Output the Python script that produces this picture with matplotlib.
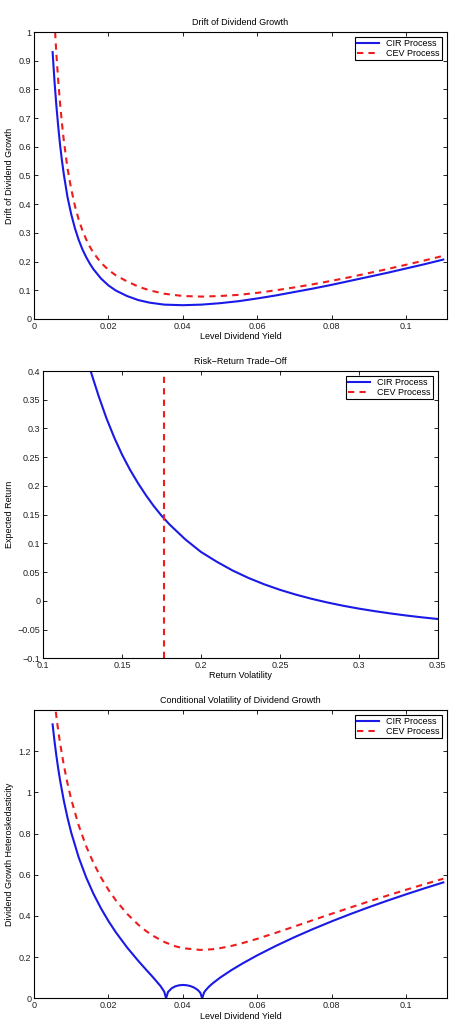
import matplotlib
matplotlib.use('Agg')
import matplotlib.pyplot as plt
from matplotlib.ticker import FuncFormatter, MultipleLocator

plt.rcParams['font.family'] = ['Liberation Sans', 'DejaVu Sans']
plt.rcParams['font.size'] = 6.5

# --- panel 1: drift of dividend growth ---
yield_cir = [0.005, 0.0055, 0.006, 0.0065, 0.007, 0.0075, 0.008, 0.009, 0.010, 0.011,
             0.012, 0.013, 0.014, 0.015, 0.016, 0.018, 0.020, 0.022, 0.025, 0.028,
             0.031, 0.035, 0.040, 0.045, 0.050, 0.055, 0.060, 0.065, 0.070, 0.075,
             0.080, 0.085, 0.090, 0.095, 0.100, 0.105, 0.110]
drift_cir = [0.93, 0.83, 0.745, 0.672, 0.607, 0.553, 0.505, 0.425, 0.365, 0.316,
             0.276, 0.243, 0.216, 0.193, 0.173, 0.141, 0.117, 0.099, 0.080, 0.066,
             0.057, 0.050, 0.048, 0.050, 0.055, 0.062, 0.0715, 0.082, 0.094, 0.106,
             0.119, 0.133, 0.147, 0.161, 0.176, 0.191, 0.207]
yield_cev = yield_cir[1:]
drift_cev = [1.04, 0.925, 0.832, 0.752, 0.683, 0.623, 0.525, 0.453, 0.394,
             0.347, 0.309, 0.278, 0.252, 0.230, 0.196, 0.171, 0.152, 0.131, 0.113,
             0.100, 0.088, 0.080, 0.078, 0.080, 0.084, 0.091, 0.100, 0.110, 0.121,
             0.133, 0.146, 0.160, 0.174, 0.189, 0.204, 0.220]

# --- panel 2: risk-return trade-off ---
vol_cir = [0.128, 0.130, 0.135, 0.140, 0.145, 0.150, 0.155, 0.160, 0.165, 0.170,
           0.175, 0.180, 0.190, 0.200, 0.210, 0.220, 0.230, 0.240, 0.250, 0.260,
           0.270, 0.280, 0.290, 0.300, 0.310, 0.320, 0.330, 0.340, 0.350]
ret_cir = [0.425, 0.40, 0.357, 0.318, 0.284, 0.254, 0.228, 0.205, 0.184, 0.165,
           0.148, 0.133, 0.107, 0.085, 0.068, 0.0528, 0.0399, 0.0288, 0.0192, 0.0109,
           0.0036, -0.0028, -0.0085, -0.0135, -0.0179, -0.0219, -0.0255, -0.0287, -0.0316]
vol_cev = [0.1767, 0.1767]
ret_cev = [-0.1, 0.4]

# --- panel 3: conditional volatility ---
yield3_cir = [0.005, 0.0055, 0.006, 0.0065, 0.007, 0.008, 0.009, 0.010, 0.012, 0.014,
              0.016, 0.018, 0.020, 0.022, 0.025, 0.028, 0.030, 0.032, 0.034, 0.035,
              0.0355, 0.036, 0.037, 0.038, 0.039, 0.040, 0.041, 0.042, 0.043, 0.044,
              0.0447, 0.0452, 0.0457, 0.046, 0.047, 0.048, 0.050, 0.053, 0.056, 0.060,
              0.065, 0.070, 0.075, 0.080, 0.085, 0.090, 0.095, 0.100, 0.105, 0.110]
hetero_cir = [1.3306, 1.2504, 1.1796, 1.1165, 1.0597, 0.9609, 0.8773, 0.8050, 0.6851, 0.5882,
              0.5069, 0.4370, 0.3755, 0.3206, 0.2475, 0.1824, 0.1418, 0.1021, 0.0597, 0.0324,
              0.0, 0.0304, 0.0490, 0.0585, 0.0634, 0.0650, 0.0638, 0.0598, 0.0526, 0.0409,
              0.0273, 0.0, 0.0284, 0.0363, 0.0564, 0.0726, 0.1003, 0.1364, 0.1690, 0.2089,
              0.2547, 0.2971, 0.3366, 0.3739, 0.4091, 0.4426, 0.4746, 0.5052, 0.5346, 0.5630]
yield3_cev = [0.0055, 0.006, 0.0065, 0.007, 0.008, 0.009, 0.010, 0.012, 0.014, 0.016,
              0.018, 0.020, 0.022, 0.025, 0.028, 0.030, 0.032, 0.035, 0.038, 0.040,
              0.0447, 0.048, 0.050, 0.053, 0.056, 0.060, 0.065, 0.070, 0.075, 0.080,
              0.085, 0.090, 0.095, 0.100, 0.105, 0.110]
hetero_cev = [1.447, 1.3703, 1.3017, 1.2401, 1.1334, 1.0437, 0.9667, 0.8402, 0.7396, 0.6567,
              0.5870, 0.5274, 0.4758, 0.4108, 0.3579, 0.3286, 0.3036, 0.2738, 0.2529, 0.2436,
              0.2351, 0.2385, 0.2436, 0.2543, 0.2680, 0.2892, 0.3184, 0.3490, 0.3800, 0.4107,
              0.4409, 0.4705, 0.4993, 0.5273, 0.5546, 0.5811]

blue = '#1a1ae6'
red = '#ee1c1c'
labels = ['CIR Process', 'CEV Process']
fs = 6.5

# matlab-like labels: %g with a real minus sign
fmt = FuncFormatter(lambda v, pos: ('%g' % round(v, 6)).replace('-', '\u2212'))


def style(ax):
    ax.tick_params(direction='in', top=True, right=True, length=3, width=0.6,
                   labelsize=fs, pad=2, labelcolor='#222222')
    ax.xaxis.set_major_formatter(fmt)
    ax.yaxis.set_major_formatter(fmt)
    for s in ax.spines.values():
        s.set_linewidth(0.8)
    leg = ax.legend(labels, loc='upper right', fancybox=False, framealpha=1,
                    edgecolor='black', fontsize=fs, handlelength=2.4,
                    borderpad=0.25, labelspacing=0.1, borderaxespad=0.55)
    leg.get_frame().set_linewidth(0.8)


fig = plt.figure(figsize=(4.54, 10.23), dpi=100)

ax1 = fig.add_axes([0.0749, 0.6882, 0.9097, 0.2805])
ax1.plot(yield_cir, drift_cir, color=blue, lw=1.5)
ax1.plot(yield_cev, drift_cev, color=red, lw=1.5, ls='--', dashes=(3, 2.5))
ax1.set_xlim(0, 0.111)
ax1.set_ylim(0, 1)
ax1.xaxis.set_major_locator(MultipleLocator(0.02))
ax1.yaxis.set_major_locator(MultipleLocator(0.1))
ax1.set_title('Drift of Dividend Growth', fontsize=fs, pad=5)
ax1.set_xlabel('Level Dividend Yield', fontsize=fs, labelpad=1)
ax1.set_ylabel('Drift of Dividend Growth', fontsize=fs, labelpad=3)
style(ax1)

ax2 = fig.add_axes([0.0954, 0.3565, 0.8687, 0.2808])
ax2.plot(vol_cir, ret_cir, color=blue, lw=1.5)
ax2.plot(vol_cev, ret_cev, color=red, lw=1.5, ls='--', dashes=(3, 2.5))
ax2.set_xlim(0.1, 0.35)
ax2.set_ylim(-0.1, 0.4)
ax2.xaxis.set_major_locator(MultipleLocator(0.05))
ax2.yaxis.set_major_locator(MultipleLocator(0.05))
ax2.set_title('Risk\u2212Return Trade\u2212Off', fontsize=fs, pad=5)
ax2.set_xlabel('Return Volatility', fontsize=fs, labelpad=1)
ax2.set_ylabel('Expected Return', fontsize=fs, labelpad=3)
style(ax2)

ax3 = fig.add_axes([0.0749, 0.0241, 0.9097, 0.2818])
ax3.plot(yield3_cir, hetero_cir, color=blue, lw=1.5)
ax3.plot(yield3_cev, hetero_cev, color=red, lw=1.5, ls='--', dashes=(3, 2.5))
ax3.set_xlim(0, 0.111)
ax3.set_ylim(0, 1.4)
ax3.xaxis.set_major_locator(MultipleLocator(0.02))
ax3.set_yticks([0, 0.2, 0.4, 0.6, 0.8, 1.0, 1.2])
ax3.set_title('Conditional Volatility of Dividend Growth', fontsize=fs, pad=5)
ax3.set_xlabel('Level Dividend Yield', fontsize=fs, labelpad=1)
ax3.set_ylabel('Dividend Growth Heteroskedasticity', fontsize=fs, labelpad=3)
style(ax3)

fig.savefig('out.png', dpi=100)
